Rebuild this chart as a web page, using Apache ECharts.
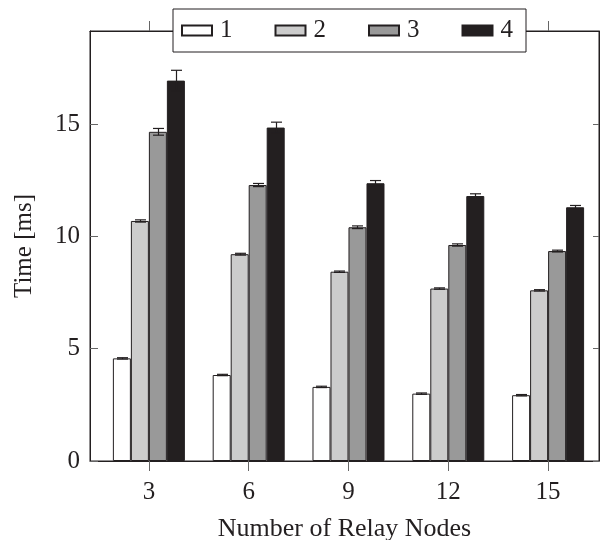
<!DOCTYPE html>
<html>
<head>
<meta charset="utf-8">
<script src="https://cdn.jsdelivr.net/npm/echarts@6/dist/echarts.min.js"></script>
<style>
  html, body { margin: 0; padding: 0; background: #fff; }
  #chart { width: 600px; height: 540px; }
</style>
</head>
<body>
<div id="chart"></div>
<script>
// relay node counts (x positions)
const nodes = [3, 6, 9, 12, 15];
const seriesNames = ['1', '2', '3', '4'];

// mean time per configuration [ms]
const time1 = [4.57, 3.83, 3.30, 3.00, 2.93];
const time2 = [10.69, 9.21, 8.43, 7.68, 7.60];
const time3 = [14.66, 12.29, 10.41, 9.62, 9.35];
const time4 = [16.94, 14.85, 12.37, 11.80, 11.30];

// error bar half-widths [ms]
const err1 = [0.03, 0.03, 0.03, 0.03, 0.03];
const err2 = [0.05, 0.04, 0.03, 0.03, 0.03];
const err3 = [0.15, 0.07, 0.06, 0.05, 0.04];
const err4 = [0.46, 0.24, 0.12, 0.10, 0.08];

const yTicks = [0, 5, 10, 15];

const fills = ['#ffffff', '#cccccc', '#999999', '#231f20'];
const FONT = 'Liberation Serif';
const BAR_W = 18;

const times = [time1, time2, time3, time4];
const errs = [err1, err2, err3, err4];

const chart = echarts.init(document.getElementById('chart'));

const barSeries = times.map((vals, k) => ({
  name: seriesNames[k],
  type: 'bar',
  xAxisIndex: 0,
  yAxisIndex: 0,
  barWidth: BAR_W,
  barGap: '0%',
  data: nodes.map((n, i) => [n, vals[i]]),
  itemStyle: { color: fills[k], borderColor: '#231f20', borderWidth: 1 },
  emphasis: { disabled: true },
  z: 2,
}));

// error bars drawn on top of each bar, shifted to the bar's slot in the group
const errSeries = times.map((vals, k) => ({
  type: 'custom',
  xAxisIndex: 0,
  yAxisIndex: 0,
  z: 3,
  silent: true,
  data: nodes.map((n, i) => [n, vals[i], errs[k][i]]),
  renderItem: (params, api) => {
    const x = api.value(0);
    const y = api.value(1);
    const e = api.value(2);
    const hi = api.coord([x, y + e]);
    const lo = api.coord([x, y - e]);
    const cx = Math.round(hi[0] + (k - 1.5) * BAR_W) + 0.5;
    const cap = 5.5;
    const st = { stroke: '#231f20', lineWidth: 1.2 };
    return {
      type: 'group',
      children: [
        { type: 'line', shape: { x1: cx, y1: hi[1], x2: cx, y2: lo[1] }, style: st },
        { type: 'line', shape: { x1: cx - cap, y1: hi[1], x2: cx + cap, y2: hi[1] }, style: st },
        { type: 'line', shape: { x1: cx - cap, y1: lo[1], x2: cx + cap, y2: lo[1] }, style: st },
      ],
    };
  },
}));

const xMin = 1.23;
const xMax = 16.53;
const yMax = 19.15;

const option = {
  animation: false,
  textStyle: { fontFamily: FONT },
  grid: {
    left: 90, top: 31, right: 1, bottom: 79,
    outerBoundsMode: 'none',
    show: true, borderColor: '#231f20', borderWidth: 1,
  },
  legend: {
    data: seriesNames,
    left: 173,
    top: 9,
    padding: [9, 13, 9, 8],
    itemWidth: 30,
    itemHeight: 10,
    itemGap: 42,
    backgroundColor: '#ffffff',
    borderColor: '#231f20',
    borderWidth: 1,
    borderRadius: 0,
    icon: 'rect',
    z: 10,
    textStyle: { fontFamily: FONT, fontSize: 25, color: '#231f20', padding: [0, 0, 0, 3] },
  },
  xAxis: [
    {
      type: 'value',
      min: xMin,
      max: xMax,
      position: 'bottom',
      name: 'Number of Relay Nodes',
      nameLocation: 'middle',
      nameGap: 55,
      nameTextStyle: { fontFamily: FONT, fontSize: 26, color: '#231f20' },
      axisLine: { show: true, onZero: false, lineStyle: { color: '#231f20', width: 1 } },
      axisTick: { show: true, inside: false, length: 10, customValues: nodes, lineStyle: { color: '#666' } },
      axisLabel: { customValues: nodes, margin: 19, fontFamily: FONT, fontSize: 25, color: '#231f20' },
      splitLine: { show: false },
    },
    {
      type: 'value',
      min: xMin,
      max: xMax,
      position: 'top',
      axisLine: { show: true, onZero: false, lineStyle: { color: '#231f20', width: 1 } },
      axisTick: { show: true, inside: false, length: 10, customValues: nodes, lineStyle: { color: '#666' } },
      axisLabel: { show: false },
      splitLine: { show: false },
    },
  ],
  yAxis: [
    {
      type: 'value',
      min: 0,
      max: yMax,
      position: 'left',
      name: 'Time [ms]',
      nameLocation: 'middle',
      nameGap: 53,
      nameTextStyle: { fontFamily: FONT, fontSize: 25, color: '#231f20' },
      axisLine: { show: true, lineStyle: { color: '#231f20', width: 1 } },
      axisTick: { show: true, inside: true, length: 8, customValues: yTicks, lineStyle: { color: '#666' } },
      axisLabel: { customValues: yTicks, margin: 10, fontFamily: FONT, fontSize: 25, color: '#231f20' },
      splitLine: { show: false },
    },
    {
      type: 'value',
      min: 0,
      max: yMax,
      position: 'right',
      axisLine: { show: true, lineStyle: { color: '#231f20', width: 1 } },
      axisTick: { show: true, inside: true, length: 6, customValues: yTicks, lineStyle: { color: '#666' } },
      axisLabel: { show: false },
      splitLine: { show: false },
    },
  ],
  series: [...barSeries, ...errSeries],
};

chart.setOption(option);
</script>
</body>
</html>
